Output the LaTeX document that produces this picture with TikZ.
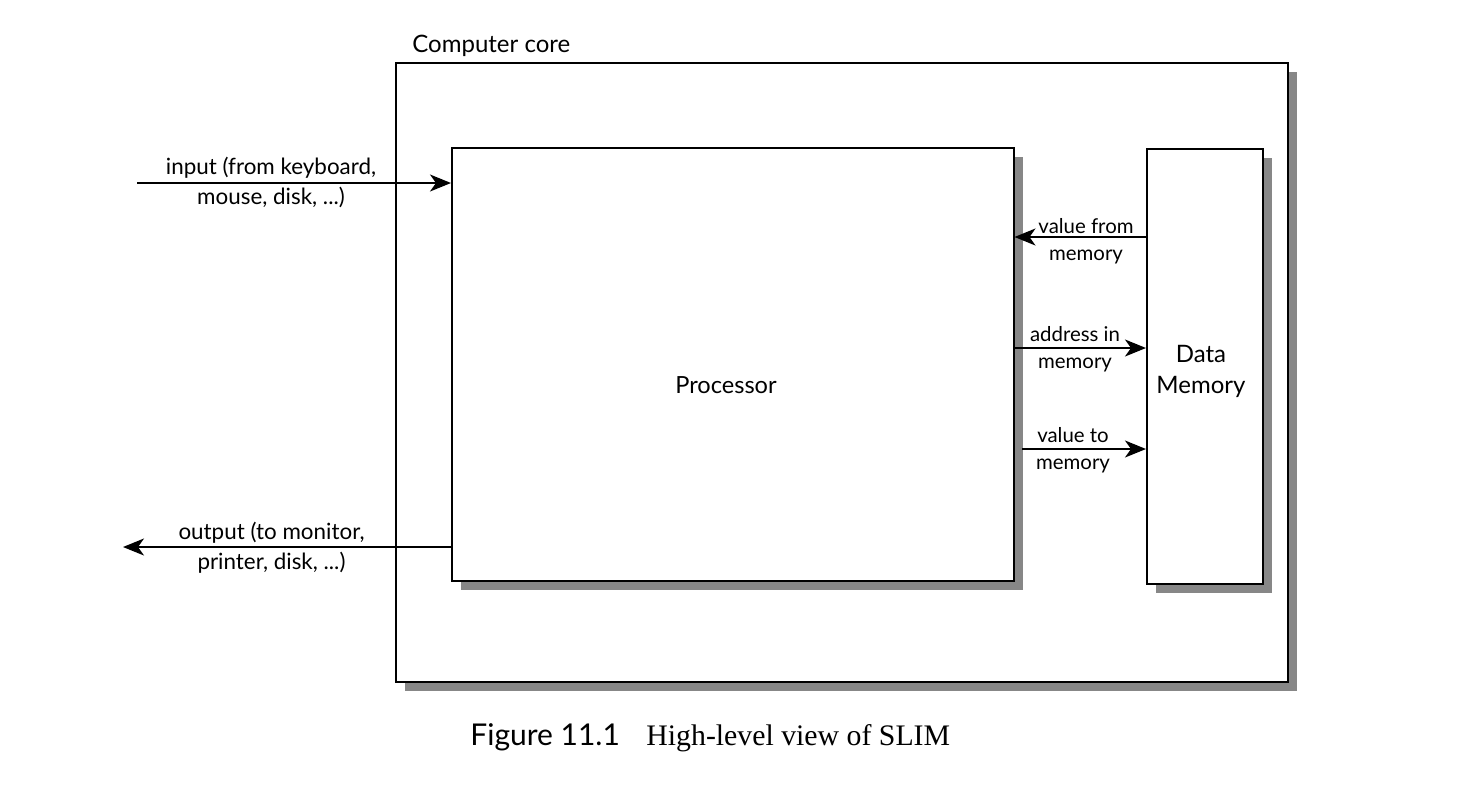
\documentclass[tikz,border=0pt]{standalone}
\usepackage{fontspec}
\setmainfont{Lato}
\newfontfamily\capserif{Liberation Serif}
\usetikzlibrary{arrows.meta,shadows}
\tikzset{
  box/.style={draw=black, line width=0.75pt, fill=white, anchor=north west, inner sep=0pt,
    drop shadow={shadow xshift=4.75pt, shadow yshift=-4.75pt, fill=black!47, opacity=1}},
  arr/.style={line width=0.8pt, -{Stealth[length=10.5pt, width=8.5pt, inset=3pt]}},
  lbl/.style={align=center, font=\fontsize{10.2}{13.5}\selectfont, inner sep=0pt},
  iolbl/.style={align=center, font=\fontsize{11.2}{15}\selectfont, inner sep=0pt},
}
\begin{document}
\begin{tikzpicture}[x=0.5pt,y=-0.5pt]
\useasboundingbox (0,0) rectangle (1464,800);
\node[box, minimum width=446pt, minimum height=309.5pt] (core) at (395,62) {};
\node[anchor=base west, font=\fontsize{12}{14}\selectfont, inner sep=0pt] (corelbl) at (412,52) {Computer core};
\node[box, minimum width=281pt, minimum height=216.5pt] (proc) at (451,147) {};
\node[font=\fontsize{11.8}{14}\selectfont] (proctxt) at (726,385) {Processor};
\node[box, minimum width=58pt, minimum height=217.5pt] (dm) at (1146,148) {};
\node[align=center, font=\fontsize{12}{15.5}\selectfont, inner sep=0pt] (dmtxt) at (1201,371) {Data\\Memory};
% processor-memory arrows
\draw[arr] (dm.west |- 0,237) -- (proc.east |- 0,237);
\draw[arr] (proc.east |- 0,348) -- (dm.west |- 0,348);
\draw[arr] (1022,449) -- (dm.west |- 0,449);
\node[lbl] (l1) at (1086,241) {value from\\memory};
\node[lbl] (l2) at (1075,349) {address in\\memory};
\node[lbl] (l3) at (1073,450) {value to\\memory};
% input / output
\coordinate (inst) at (137,183);
\coordinate (outend) at (123,547);
\draw[arr] (inst) -- (proc.west |- inst);
\draw[arr] (proc.west |- outend) -- (outend);
\node[iolbl] (inl) at (271,182) {input (from keyboard,\\mouse, disk, ...)};
\node[iolbl] (outl) at (271.5,548) {output (to monitor,\\printer, disk, ...)};
% caption
\node[anchor=base west, inner sep=0pt, font=\fontsize{15}{17}\selectfont] (fig) at (470,745) {Figure 11.1};
\node[anchor=base west, inner sep=0pt, font=\capserif\fontsize{14.9}{17}\selectfont] (cap) at (646,745) {High-level view of SLIM};
\end{tikzpicture}
\end{document}
